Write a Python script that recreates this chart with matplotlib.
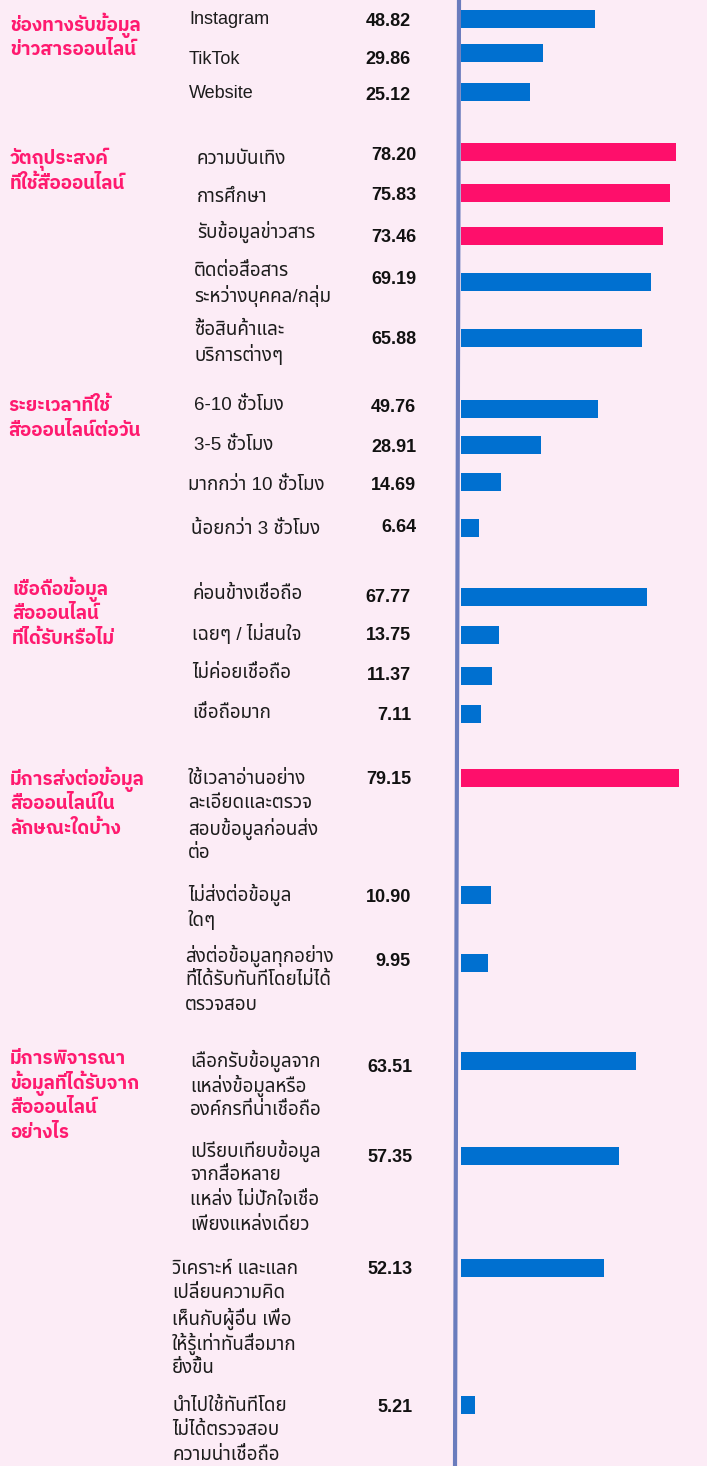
import matplotlib
matplotlib.use('Agg')
import matplotlib.pyplot as plt

# ข้อมูล
groups = [
    'ช่องทางรับข้อมูล\nข่าวสารออนไลน์',
    'วัตถุประสงค์\nที่ใช้สื่อออนไลน์',
    'ระยะเวลาที่ใช้\nสื่อออนไลน์ต่อวัน',
    'เชื่อถือข้อมูล\nสื่อออนไลน์\nที่ได้รับหรือไม่',
    'มีการส่งต่อข้อมูล\nสื่อออนไลน์ใน\nลักษณะใดบ้าง',
    'มีการพิจารณา\nข้อมูลที่ได้รับจาก\nสื่อออนไลน์\nอย่างไร',
]
labels_channel = ['Instagram', 'TikTok', 'Website']
values_channel = [48.82, 29.86, 25.12]
labels_purpose = ['ความบันเทิง', 'การศึกษา', 'รับข้อมูลข่าวสาร',
                  'ติดต่อสื่อสาร\nระหว่างบุคคล/กลุ่ม', 'ซื้อสินค้าและ\nบริการต่างๆ']
values_purpose = [78.20, 75.83, 73.46, 69.19, 65.88]
labels_time = ['6-10 ชั่วโมง', '3-5 ชั่วโมง', 'มากกว่า 10 ชั่วโมง', 'น้อยกว่า 3 ชั่วโมง']
values_time = [49.76, 28.91, 14.69, 6.64]
labels_trust = ['ค่อนข้างเชื่อถือ', 'เฉยๆ / ไม่สนใจ', 'ไม่ค่อยเชื่อถือ', 'เชื่อถือมาก']
values_trust = [67.77, 13.75, 11.37, 7.11]
labels_share = ['ใช้เวลาอ่านอย่าง\nละเอียดและตรวจ\nสอบข้อมูลก่อนส่ง\nต่อ',
                'ไม่ส่งต่อข้อมูล\nใดๆ',
                'ส่งต่อข้อมูลทุกอย่าง\nที่ได้รับทันทีโดยไม่ได้\nตรวจสอบ']
values_share = [79.15, 10.90, 9.95]
labels_check = ['เลือกรับข้อมูลจาก\nแหล่งข้อมูลหรือ\nองค์กรที่น่าเชื่อถือ',
                'เปรียบเทียบข้อมูล\nจากสื่อหลาย\nแหล่ง ไม่ปักใจเชื่อ\nเพียงแหล่งเดียว',
                'วิเคราะห์ และแลก\nเปลี่ยนความคิด\nเห็นกับผู้อื่น เพื่อ\nให้รู้เท่าทันสื่อมาก\nยิ่งขึ้น',
                'นำไปใช้ทันทีโดย\nไม่ได้ตรวจสอบ\nความน่าเชื่อถือ']
values_check = [63.51, 57.35, 52.13, 5.21]

all_labels = [labels_channel, labels_purpose, labels_time, labels_trust, labels_share, labels_check]
all_values = [values_channel, values_purpose, values_time, values_trust, values_share, values_check]

# ตำแหน่ง (พิกเซล)
header_y = [25, 159, 406, 589, 779, 1059]
header_x = [10, 10, 8, 12, 10, 10]
bar_y = [[19, 53, 92], [152, 193, 236, 282, 338], [409, 445, 482, 528],
         [597, 635, 676, 714], [778, 895, 963], [1061, 1156, 1268, 1405]]
label_y = [[20, 59, 93], [159, 197, 232, 271, 330], [406, 446, 485, 529],
           [594, 633, 673, 714], [779, 895, 956], [1061, 1151, 1269, 1406]]
label_x = [[189, 189, 189], [197, 197, 197, 194, 194], [194, 194, 188, 191],
           [192, 192, 192, 192], [188, 188, 185], [190, 190, 172, 172]]
value_y = [[22, 60, 95], [156, 195, 237, 280, 340], [407, 448, 486, 528],
           [597, 636, 675, 715], [780, 898, 961], [1068, 1158, 1270, 1407]]
value_x = [411, 416, 416, 411, 411, 413]
line_gap = 24.8

bg = '#fcecf6'
blue = '#0070d0'
pink = '#fe0f6b'
head_col = '#ff1a6f'
axis_col = '#6a7cbd'
px_per_unit = 2.75

head_font = ['IBM Plex Sans Thai', 'DejaVu Sans']
label_font = ['Liberation Sans', 'Noto Sans Thai', 'DejaVu Sans']
num_font = ['Liberation Sans', 'DejaVu Sans']


def has_thai(s):
    return any('\u0e00' <= c <= '\u0e7f' for c in s)


W, H = 707, 1466
fig = plt.figure(figsize=(W / 100, H / 100), dpi=100, facecolor=bg)
ax = fig.add_axes([0, 0, 1, 1])
ax.set_xlim(0, W)
ax.set_ylim(H, 0)
ax.axis('off')

bar_left = 461
bx = fig.add_axes([bar_left / W, 0, (W - bar_left) / W, 1])
bx.set_xlim(0, (W - bar_left) / px_per_unit)
bx.set_ylim(H, 0)
bx.axis('off')
bx.patch.set_alpha(0)

# เส้นแกนตั้ง
ax.plot([459, 455], [0, H], color=axis_col, lw=3, solid_capstyle='butt')

for g in range(len(groups)):
    for i, line in enumerate(groups[g].split('\n')):
        ax.text(header_x[g], header_y[g] + i * 24.7, line, color=head_col,
                fontsize=13.5, fontweight='bold', family=head_font,
                va='center', ha='left')
    cols = [pink if v > 70 else blue for v in all_values[g]]
    bx.barh(bar_y[g], all_values[g], height=18, left=0, color=cols)
    for j, (lab, v) in enumerate(zip(all_labels[g], all_values[g])):
        for i, line in enumerate(lab.split('\n')):
            ax.text(label_x[g][j], label_y[g][j] + i * line_gap, line, color='#1c1c1c',
                    fontsize=13.5 if has_thai(line) else 13, family=label_font,
                    va='center', ha='left')
        ax.text(value_x[g], value_y[g][j], f'{v:.2f}', color='#111111', fontsize=13,
                fontweight='bold', family=num_font, va='center', ha='right')

fig.savefig('out.png', dpi=100, facecolor=bg)
